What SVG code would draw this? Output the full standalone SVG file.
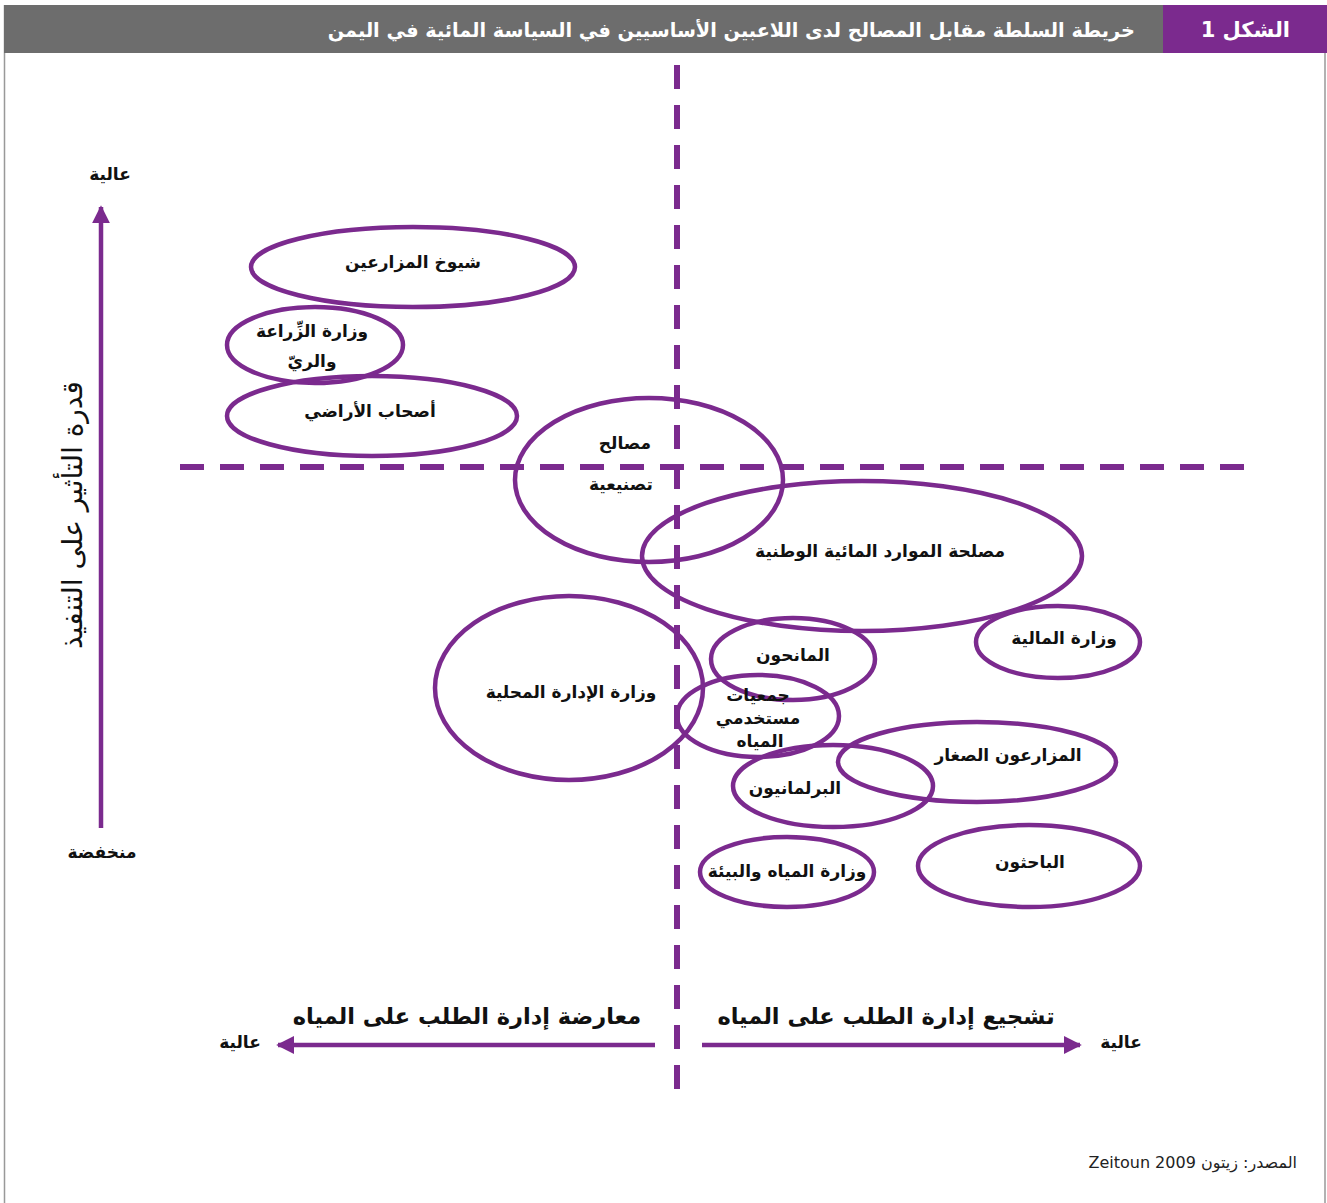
<svg xmlns="http://www.w3.org/2000/svg" width="1327" height="1203" viewBox="0 0 1327 1203">
  <style>
    .ar { font-family: "DejaVu Sans", "Noto Sans", sans-serif; }
    .node-shape { fill: none; stroke: #7b2a8e; stroke-width: 4.5; }
    .node-label { font-family: "DejaVu Sans", "Noto Sans", sans-serif; font-weight: bold; font-size: 17px; fill: #111; text-anchor: middle; }
    .axis-label { font-family: "DejaVu Sans", "Noto Sans", sans-serif; font-weight: bold; font-size: 17px; fill: #111; text-anchor: middle; }
    .divider { stroke: #7b2a8e; stroke-width: 6; stroke-dasharray: 24 16; fill: none; }
    .axis { stroke: #7b2a8e; stroke-width: 4.5; fill: none; }
  </style>
  <defs>
    <marker id="arrowhead" viewBox="0 0 10 10" refX="9" refY="5" markerWidth="4" markerHeight="4" orient="auto" markerUnits="strokeWidth">
      <path d="M0,0 L10,5 L0,10 z" fill="#7b2a8e"/>
    </marker>
  </defs>

  <!-- page background and frame -->
  <rect x="0" y="0" width="1327" height="1203" fill="#ffffff"/>
  <line x1="4.5" y1="5" x2="4.5" y2="1203" stroke="#999" stroke-width="1.5"/>
  <line x1="1325" y1="5" x2="1325" y2="1203" stroke="#999" stroke-width="1.5"/>

  <!-- title bar -->
  <g id="title">
    <rect x="4" y="5" width="1160" height="48" fill="#6d6d6d"/>
    <rect x="1163" y="5" width="164" height="48" fill="#7b2a8e"/>
    <text x="1290" y="37" class="ar" font-size="21" font-weight="bold" fill="#fff" text-anchor="end">الشكل 1</text>
    <text x="1135" y="37" class="ar" font-size="19.3" font-weight="bold" fill="#fff" text-anchor="end">خريطة السلطة مقابل المصالح لدى اللاعبين الأساسيين في السياسة المائية في اليمن</text>
  </g>

  <!-- quadrant dividers and axes -->
  <g id="connectors">
    <line class="divider" x1="677" y1="65" x2="677" y2="1098"/>
    <line class="divider" x1="180" y1="467" x2="1245" y2="467"/>
    <line class="axis" x1="101" y1="828" x2="101" y2="207" marker-end="url(#arrowhead)"/>
    <line class="axis" x1="655" y1="1045" x2="278" y2="1045" marker-end="url(#arrowhead)"/>
    <line class="axis" x1="702" y1="1045" x2="1080" y2="1045" marker-end="url(#arrowhead)"/>
  </g>

  <!-- axis labels -->
  <g id="axis-labels">
    <text x="110" y="180" class="axis-label">عالية</text>
    <text x="102" y="858" class="axis-label">منخفضة</text>
    <text transform="translate(82,515) rotate(-90)" class="ar" font-size="28" fill="#111" text-anchor="middle">قدرة التأثير على التنفيذ</text>
    <text x="467" y="1024" class="ar" font-size="22.5" font-weight="bold" fill="#111" text-anchor="middle">معارضة إدارة الطلب على المياه</text>
    <text x="886" y="1024" class="ar" font-size="22.5" font-weight="bold" fill="#111" text-anchor="middle">تشجيع إدارة الطلب على المياه</text>
    <text x="240" y="1048" class="axis-label">عالية</text>
    <text x="1121" y="1048" class="axis-label">عالية</text>
  </g>

  <!-- stakeholders -->
  <g id="node-sheikhs">
    <ellipse class="node-shape" cx="413" cy="267" rx="162" ry="40"/>
    <text class="node-label" x="413" y="268">شيوخ المزارعين</text>
  </g>
  <g id="node-agriculture-ministry">
    <ellipse class="node-shape" cx="315" cy="345" rx="88" ry="38"/>
    <text class="node-label" x="312" y="337">وزارة الزِّراعة</text>
    <text class="node-label" x="312" y="367">والريّ</text>
  </g>
  <g id="node-landowners">
    <ellipse class="node-shape" cx="372" cy="416" rx="145" ry="40"/>
    <text class="node-label" x="370" y="417">أصحاب الأراضي</text>
  </g>
  <g id="node-industry">
    <ellipse class="node-shape" cx="649" cy="480" rx="134" ry="82"/>
    <text class="node-label" x="625" y="449">مصالح</text>
    <text class="node-label" x="621" y="490">تصنيعية</text>
  </g>
  <g id="node-nwra">
    <ellipse class="node-shape" cx="862" cy="556" rx="220" ry="75"/>
    <text class="node-label" x="880" y="557">مصلحة الموارد المائية الوطنية</text>
  </g>
  <g id="node-local-admin">
    <ellipse class="node-shape" cx="569" cy="688" rx="134" ry="92"/>
    <text class="node-label" x="571" y="698">وزارة الإدارة المحلية</text>
  </g>
  <g id="node-donors">
    <ellipse class="node-shape" cx="793" cy="659" rx="82" ry="41"/>
    <text class="node-label" x="793" y="661">المانحون</text>
  </g>
  <g id="node-finance">
    <ellipse class="node-shape" cx="1058" cy="642" rx="82" ry="36"/>
    <text class="node-label" x="1064" y="644">وزارة المالية</text>
  </g>
  <g id="node-wua">
    <ellipse class="node-shape" cx="758" cy="716" rx="81" ry="41"/>
    <text class="node-label" x="758" y="701">جمعيات</text>
    <text class="node-label" x="758" y="724">مستخدمي</text>
    <text class="node-label" x="760" y="747">المياه</text>
  </g>
  <g id="node-smallholders">
    <ellipse class="node-shape" cx="977" cy="762" rx="139" ry="40"/>
    <text class="node-label" x="1008" y="761">المزارعون الصغار</text>
  </g>
  <g id="node-parliament">
    <ellipse class="node-shape" cx="833" cy="786" rx="100" ry="41"/>
    <text class="node-label" x="795" y="794">البرلمانيون</text>
  </g>
  <g id="node-water-ministry">
    <ellipse class="node-shape" cx="787" cy="872" rx="87" ry="35"/>
    <text class="node-label" x="787" y="877">وزارة المياه والبيئة</text>
  </g>
  <g id="node-researchers">
    <ellipse class="node-shape" cx="1029" cy="866" rx="111" ry="41"/>
    <text class="node-label" x="1030" y="868">الباحثون</text>
  </g>

  <!-- source note -->
  <text x="1297" y="1168" class="ar" font-size="16" fill="#222" direction="rtl" text-anchor="start">المصدر: زيتون Zeitoun 2009</text>
</svg>
